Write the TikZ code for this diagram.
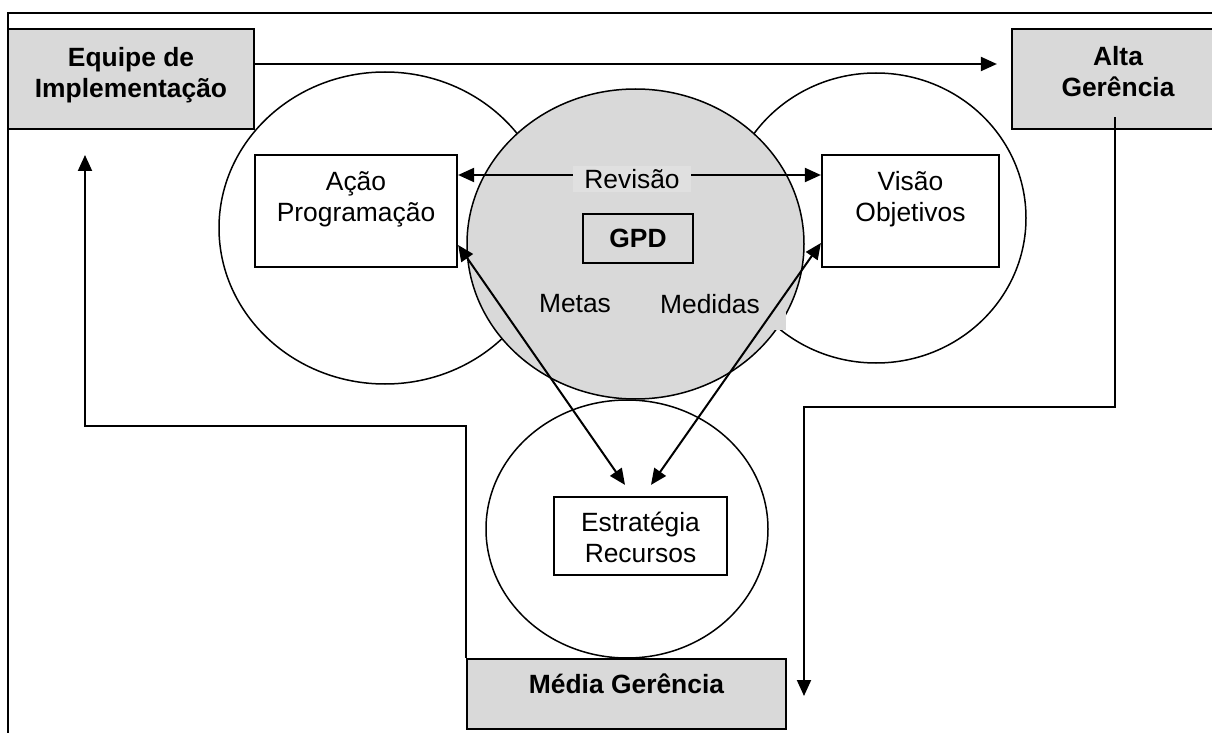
\documentclass[tikz,border=0pt]{standalone}
\usepackage{fontspec}
\setmainfont{Liberation Sans}
\usetikzlibrary{arrows.meta,shapes.geometric}
\definecolor{gpdfill}{HTML}{D9D9D9}
\definecolor{revfill}{HTML}{E0E0E0}
\tikzset{
  every node/.style={font=\fontsize{13.2pt}{15.5pt}\selectfont},
  ring/.style={ellipse, draw, line width=0.75pt, fill=white, inner sep=0pt},
  graybox/.style={rectangle, draw, line width=1.1pt, fill=gpdfill, inner sep=0pt},
  whitebox/.style={rectangle, draw, line width=1.1pt, fill=white, inner sep=0pt},
  lbl/.style={inner sep=0pt, align=center},
  boldlbl/.style={lbl, font=\fontsize{13.2pt}{15.5pt}\selectfont\bfseries},
  tip/.style={Triangle[length=8pt,width=7pt]},
  arr/.style={line width=1pt, -{Triangle[length=8pt,width=7pt]}},
  dblarr/.style={line width=1pt, {Triangle[length=8pt,width=7pt]}-{Triangle[length=8pt,width=7pt]}},
  frameline/.style={line width=1.25pt}
}
\begin{document}
\begin{tikzpicture}[x=0.5pt, y=-0.5pt]
\useasboundingbox (0,0) rectangle (1212,733);

% outer frame (left and top edges)
\draw[frameline] (8,733) -- (8,13) -- (1212,13);

% the four circles of the cycle
\node[ring, minimum width=166pt, minimum height=156pt] (cAcao) at (385,228) {};
\node[ring, minimum width=150pt, minimum height=145pt] (cVisao) at (876,218) {};
\node[ring, minimum width=141pt, minimum height=129pt] (cEst) at (627,529) {};
\node[ring, fill=gpdfill, minimum width=168.5pt, minimum height=155pt] (cGpd) at (635.5,244) {};

% shaded background behind the "Medidas" label
\fill[gpdfill] (652,288) rectangle (786,330);

% management boxes
\node[graybox, minimum width=123pt, minimum height=50pt] (eq) at (131,79) {};
\node[boldlbl] (eqT) at (131,75.5) {Equipe de\\Implementação};
\node[graybox, minimum width=106pt, minimum height=50pt] (alta) at (1118,79) {};
\node[boldlbl] (altaT) at (1118,72) {Alta\\Gerência};
\node[graybox, minimum width=159.5pt, minimum height=35pt] (media) at (626.5,694) {};
\node[boldlbl] (mediaT) at (626.5,684) {Média Gerência};

% inner boxes
\node[whitebox, minimum width=101pt, minimum height=56pt] (aca) at (356,211) {};
\node[lbl] (acaT) at (356,199) {Ação\\Programação};
\node[whitebox, minimum width=88.5pt, minimum height=56pt] (vis) at (910.5,211) {};
\node[lbl] (visT) at (910.5,199.5) {Visão\\Objetivos};
\node[whitebox, minimum width=86.5pt, minimum height=39pt] (est) at (640.5,536) {};
\node[lbl] (estT) at (640.5,537.5) {Estratégia\\Recursos};
\node[rectangle, draw, line width=1.1pt, inner sep=0pt, minimum width=55pt, minimum height=24.5pt,
      font=\fontsize{13.2pt}{15.5pt}\selectfont\bfseries] (gpd) at (638,238.5) {GPD};

% labels inside the GPD circle
\node[lbl, fill=revfill, minimum width=59pt, minimum height=13pt] (rev) at (632,179) {Revisão};
\node[lbl] (metas) at (575,304) {Metas};
\node[lbl] (medidas) at (710,304) {Medidas};

% routing points of the outer loop
\coordinate (rTurn) at (804,407);
\coordinate (rEnd) at (804,696);
\coordinate (lTurn) at (85,426);
\coordinate (lEnd) at (85,155);

% connectors
\draw[arr] ([yshift=7.5pt]eq.east) -- ([yshift=7.5pt]alta.west) [shorten >=7pt];
\draw[arr] ([yshift=2pt]rev.west) -- ([yshift=2pt]rev.west -| aca.east);
\draw[arr] ([yshift=2pt]rev.east) -- ([yshift=2pt]rev.east -| vis.west);
\draw[dblarr] ([yshift=-17pt]aca.east) -- ([xshift=-7.75pt,yshift=5.5pt]est.north);
\draw[dblarr] ([yshift=-16pt]vis.west) -- ([xshift=5.25pt,yshift=5.5pt]est.north);
\draw[arr] ([xshift=-1.5pt,yshift=6.5pt]alta.south) |- (rTurn) -- (rEnd);
\draw[arr] (media.north west) |- (lTurn) -- (lEnd);
\end{tikzpicture}
\end{document}
